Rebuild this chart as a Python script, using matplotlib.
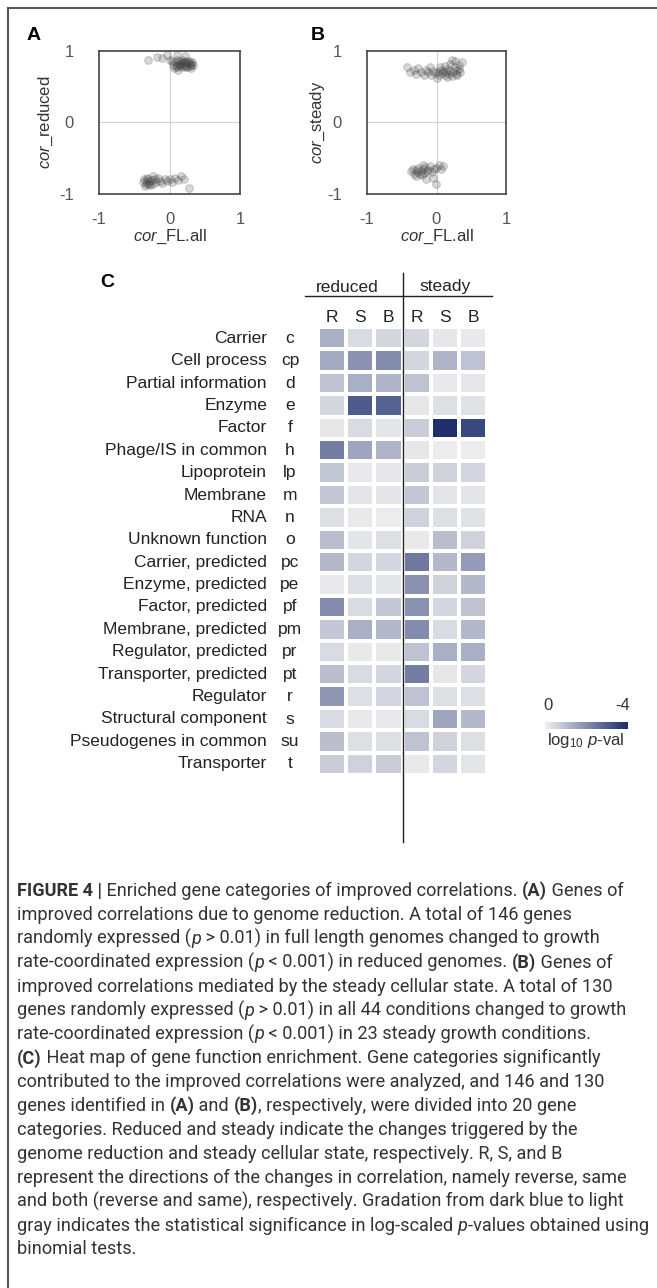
import re
import numpy as np
import matplotlib
matplotlib.use('Agg')
import matplotlib.pyplot as plt
from matplotlib.colors import LinearSegmentedColormap, Normalize
from matplotlib.cm import ScalarMappable
from matplotlib.lines import Line2D

plt.rcParams['font.family'] = ['Liberation Sans', 'DejaVu Sans']
plt.rcParams['mathtext.fontset'] = 'custom'
plt.rcParams['mathtext.rm'] = 'Liberation Sans'
plt.rcParams['mathtext.it'] = 'Liberation Sans:italic'

# ---- data: panel A (cor_FL.all vs cor_reduced)
a_up_x = [0.05, 0.08, 0.10, 0.12, 0.14, 0.15, 0.17, 0.18, 0.20, 0.21, 0.22, 0.24, 0.25, 0.27,
          0.28, 0.30, 0.32, 0.34, 0.06, 0.09, 0.11, 0.13, 0.16, 0.19, 0.23, 0.26, 0.29, 0.31,
          0.12, 0.18, 0.24, 0.30, -0.30, -0.18, -0.10, -0.04, 0.00, 0.03, 0.10, 0.22]
a_up_y = [0.80, 0.84, 0.78, 0.82, 0.86, 0.79, 0.83, 0.77, 0.81, 0.85, 0.79, 0.83, 0.78, 0.82,
          0.86, 0.80, 0.84, 0.81, 0.76, 0.79, 0.87, 0.80, 0.82, 0.85, 0.77, 0.84, 0.79, 0.83,
          0.74, 0.88, 0.86, 0.76, 0.88, 0.92, 0.90, 0.95, 0.88, 0.86, 0.95, 0.93]
a_lo_x = [-0.38, -0.36, -0.34, -0.33, -0.31, -0.30, -0.28, -0.27, -0.25, -0.23, -0.21, -0.19,
          -0.16, -0.13, -0.10, -0.07, -0.04, 0.00, 0.04, 0.08, 0.12, 0.16, 0.20, 0.27,
          -0.35, -0.29, -0.24, -0.32]
a_lo_y = [-0.84, -0.80, -0.87, -0.82, -0.85, -0.79, -0.83, -0.88, -0.81, -0.86, -0.80, -0.84,
          -0.78, -0.82, -0.85, -0.79, -0.83, -0.80, -0.84, -0.78, -0.81, -0.76, -0.79, -0.92,
          -0.90, -0.86, -0.76, -0.78]

# ---- data: panel B (cor_FL.all vs cor_steady)
b_up_x = [-0.42, -0.38, -0.33, -0.30, -0.26, -0.22, -0.18, -0.15, -0.12, -0.08, -0.05, -0.02,
          0.00, 0.02, 0.04, 0.06, 0.08, 0.10, 0.12, 0.14, 0.16, 0.18, 0.20, 0.22, 0.24, 0.26,
          0.28, 0.30, 0.32, 0.34, 0.36, 0.05, 0.12, 0.19, 0.27, 0.33, 0.22, 0.15, 0.30, -0.10]
b_up_y = [0.77, 0.70, 0.74, 0.68, 0.76, 0.71, 0.67, 0.74, 0.70, 0.66, 0.72, 0.69,
          0.62, 0.71, 0.66, 0.74, 0.69, 0.72, 0.66, 0.70, 0.75, 0.68, 0.72, 0.65, 0.70, 0.77,
          0.68, 0.73, 0.80, 0.71, 0.84, 0.78, 0.79, 0.82, 0.86, 0.75, 0.88, 0.64, 0.66, 0.78]
b_lo_x = [-0.37, -0.34, -0.32, -0.30, -0.28, -0.26, -0.24, -0.22, -0.20, -0.18, -0.16, -0.14,
          -0.12, -0.10, -0.07, -0.04, -0.01, 0.03, 0.07, 0.10, -0.29, -0.21, -0.15, -0.19,
          -0.05, -0.01]
b_lo_y = [-0.69, -0.65, -0.72, -0.67, -0.70, -0.64, -0.73, -0.68, -0.66, -0.71, -0.63, -0.69,
          -0.67, -0.62, -0.70, -0.66, -0.64, -0.60, -0.65, -0.62, -0.76, -0.74, -0.80, -0.60,
          -0.78, -0.86]

# ---- data: panel C heat map (-log10 p), columns reduced R,S,B / steady R,S,B
cat_names = ['Carrier', 'Cell process', 'Partial information', 'Enzyme', 'Factor',
             'Phage/IS in common', 'Lipoprotein', 'Membrane', 'RNA', 'Unknown function',
             'Carrier, predicted', 'Enzyme, predicted', 'Factor, predicted',
             'Membrane, predicted', 'Regulator, predicted', 'Transporter, predicted',
             'Regulator', 'Structural component', 'Pseudogenes in common', 'Transporter']
cat_codes = ['c', 'cp', 'd', 'e', 'f', 'h', 'lp', 'm', 'n', 'o', 'pc', 'pe', 'pf', 'pm',
             'pr', 'pt', 'r', 's', 'su', 't']
col_labels = ['R', 'S', 'B', 'R', 'S', 'B']
group_labels = ['reduced', 'steady']
heat = np.array([
    [1.3, 0.4, 0.5, 0.5, 0.15, 0.1],
    [1.4, 1.9, 2.0, 0.5, 1.2, 0.9],
    [0.9, 1.3, 1.2, 0.9, 0.1, 0.15],
    [0.5, 3.0, 2.9, 0.15, 0.3, 0.25],
    [0.15, 0.4, 0.2, 0.7, 3.9, 3.4],
    [2.3, 1.5, 1.2, 0.15, 0.05, 0.05],
    [0.8, 0.1, 0.15, 0.7, 0.6, 0.5],
    [0.8, 0.2, 0.2, 0.8, 0.2, 0.2],
    [0.3, 0.1, 0.05, 0.6, 0.3, 0.25],
    [1.0, 0.2, 0.3, 0.1, 1.0, 0.6],
    [1.1, 0.5, 0.5, 2.4, 1.1, 1.7],
    [0.1, 0.3, 0.2, 1.9, 0.6, 1.1],
    [2.0, 0.4, 0.8, 1.9, 0.5, 0.9],
    [0.8, 1.3, 1.1, 2.0, 0.4, 1.1],
    [0.4, 0.1, 0.1, 0.9, 1.3, 1.3],
    [1.0, 0.4, 0.5, 2.3, 0.15, 0.5],
    [1.8, 0.3, 0.5, 0.9, 0.3, 0.3],
    [0.4, 0.1, 0.1, 0.4, 1.5, 1.1],
    [1.0, 0.3, 0.3, 0.9, 0.6, 0.3],
    [0.7, 0.6, 0.7, 0.1, 0.5, 0.2],
])

caption = [
    "**FIGURE 4 |** Enriched gene categories of improved correlations. **(A)** Genes of",
    "improved correlations due to genome reduction. A total of 146 genes",
    "randomly expressed (*p* > 0.01) in full length genomes changed to growth",
    "rate-coordinated expression (*p* < 0.001) in reduced genomes. **(B)** Genes of",
    "improved correlations mediated by the steady cellular state. A total of 130",
    "genes randomly expressed (*p* > 0.01) in all 44 conditions changed to growth",
    "rate-coordinated expression (*p* < 0.001) in 23 steady growth conditions.",
    "**(C)** Heat map of gene function enrichment. Gene categories significantly",
    "contributed to the improved correlations were analyzed, and 146 and 130",
    "genes identified in **(A)** and **(B)**, respectively, were divided into 20 gene",
    "categories. Reduced and steady indicate the changes triggered by the",
    "genome reduction and steady cellular state, respectively. R, S, and B",
    "represent the directions of the changes in correlation, namely reverse, same",
    "and both (reverse and same), respectively. Gradation from dark blue to light",
    "gray indicates the statistical significance in log-scaled *p*-values obtained using",
    "binomial tests.",
]

W, H = 657, 1288
fig = plt.figure(figsize=(W / 100, H / 100), dpi=100)


def box(l, t, r, b):
    return [l / W, 1 - b / H, (r - l) / W, (b - t) / H]


def fx(x):
    return x / W


def fy(y):
    return 1 - y / H


# outer frame (top and left only)
fig.add_artist(Line2D([fx(8), fx(W)], [fy(8), fy(8)], color='#555555', lw=1.5))
fig.add_artist(Line2D([fx(8), fx(8)], [fy(8), fy(H)], color='#555555', lw=1.5))


def scatter_panel(rect, xs, ys, ylab, letter, letter_x, ylab_x):
    ax = fig.add_axes(box(*rect))
    for x, y in zip(xs, ys):
        ax.scatter(x, y, s=30, facecolor=(0.25, 0.25, 0.25, 0.2),
                   edgecolor=(0.3, 0.3, 0.3, 0.25), linewidth=0.8, zorder=3)
    ax.axhline(0, color='#d4d4d4', lw=0.8, zorder=1)
    ax.axvline(0, color='#d4d4d4', lw=0.8, zorder=1)
    ax.set_xlim(-1, 1)
    ax.set_ylim(-1, 1)
    ax.set_xticks([-1, 0, 1], ['-1', '0', '1'])
    ax.set_yticks([-1, 0, 1], ['-1', '0', '1'])
    ax.tick_params(length=0, labelsize=12, labelcolor='#555555')
    ax.tick_params(axis='x', pad=13)
    ax.tick_params(axis='y', pad=18)
    for sp in ax.spines.values():
        sp.set_color('#444444')
        sp.set_linewidth(1.2)
    w = rect[2] - rect[0]
    h = rect[3] - rect[1]
    ax.set_xlabel(r'$\it{cor}$_FL.all', fontsize=12, color='#333333')
    ax.xaxis.set_label_coords(0.5, -(237 - rect[3]) / h)
    ax.xaxis.label.set_va('center')
    ax.set_ylabel(r'$\it{cor}$_' + ylab, fontsize=12, color='#333333')
    ax.yaxis.set_label_coords(-(rect[0] - ylab_x) / w, 0.5)
    ax.yaxis.label.set_va('center')
    fig.text(fx(letter_x), fy(36), letter, fontsize=14, fontweight='bold',
             ha='center', va='center')
    return ax


scatter_panel((99, 51, 240, 193.5), [a_up_x, a_lo_x], [a_up_y, a_lo_y],
              'reduced', 'A', 34, 46)
scatter_panel((367, 51, 506, 193.5), [b_up_x, b_lo_x], [b_up_y, b_lo_y],
              'steady', 'B', 318, 318)

# ---- panel C
cmap = LinearSegmentedColormap.from_list('gb', ['#eeeeef', '#1b2b6c'])
hl, ht, hr, hb = 318, 327, 487, 775
hax = fig.add_axes(box(hl, ht, hr, hb))
hax.pcolormesh(np.arange(heat.shape[1] + 1), np.arange(heat.shape[0] + 1), heat,
               cmap=cmap, vmin=0, vmax=4, edgecolors='white', linewidth=1.5)
hax.set_xlim(0, heat.shape[1])
hax.set_ylim(heat.shape[0], 0)
hax.axis('off')

cw = (hr - hl) / heat.shape[1]
rh = (hb - ht) / heat.shape[0]
for i, (name, code) in enumerate(zip(cat_names, cat_codes)):
    yc = ht + (i + 0.5) * rh
    fig.text(fx(267), fy(yc), name, ha='right', va='center', fontsize=12.5, color='#222222')
    fig.text(fx(290), fy(yc), code, ha='center', va='center', fontsize=12.5, color='#222222')
for j, lab in enumerate(col_labels):
    fig.text(fx(hl + (j + 0.5) * cw), fy(317), lab, ha='center', va='center',
             fontsize=12.5, color='#222222')
fig.text(fx(347), fy(287), group_labels[0], ha='center', va='center', fontsize=12.5, color='#222222')
fig.text(fx(445), fy(287), group_labels[1], ha='center', va='center', fontsize=12.5, color='#222222')
xsplit = hl + 3 * cw
fig.add_artist(Line2D([fx(305), fx(492)], [fy(296), fy(296)], color='#222222', lw=1))
fig.add_artist(Line2D([fx(xsplit), fx(xsplit)], [fy(273), fy(842)], color='#222222', lw=1))
fig.text(fx(107), fy(282), 'C', fontsize=14, fontweight='bold', ha='center', va='center')

# colour bar
cax = fig.add_axes(box(545, 722, 628, 729))
cb = fig.colorbar(ScalarMappable(norm=Normalize(0, 4), cmap=cmap), cax=cax,
                  orientation='horizontal')
cb.set_ticks([])
cb.outline.set_visible(False)
fig.text(fx(548), fy(706), '0', ha='center', va='center', fontsize=12, color='#333333')
fig.text(fx(623), fy(706), '-4', ha='center', va='center', fontsize=12, color='#333333')
fig.text(fx(586), fy(741), r'log$_{10}$ $\it{p}$-val', ha='center', va='center',
         fontsize=12, color='#333333')

# ---- caption with mixed styles
renderer = fig.canvas.get_renderer()
cap_font = ['Roboto', 'DejaVu Sans']


def seg_style(seg):
    if seg.startswith('**'):
        return seg[2:-2], dict(fontweight='bold')
    if seg.startswith('*'):
        return seg[1:-1], dict(fontstyle='italic')
    return seg, dict()


def text_width(txt, size, kw):
    t1 = fig.text(0, 0, '|' + txt + '|', fontsize=size, family=cap_font, **kw)
    t2 = fig.text(0, 0, '||', fontsize=size, family=cap_font, **kw)
    w = t1.get_window_extent(renderer).width - t2.get_window_extent(renderer).width
    t1.remove()
    t2.remove()
    return w


def parse(line):
    parts = re.split(r'(\*\*.*?\*\*|\*[^*]+?\*)', line)
    return [seg_style(p) for p in parts if p]


def line_width(line, size):
    return sum(text_width(t, size, kw) for t, kw in parse(line))


widest = max(line_width(line, 12) for line in caption)
cap_size = 12 * (645 - 17) / widest
for i, line in enumerate(caption):
    x = 17
    y = 891 + i * 23.9
    for txt, kw in parse(line):
        fig.text(fx(x), fy(y), txt, fontsize=cap_size, family=cap_font,
                 ha='left', va='center', color='#333333', **kw)
        x += text_width(txt, cap_size, kw)

fig.savefig('out.png', dpi=100)
